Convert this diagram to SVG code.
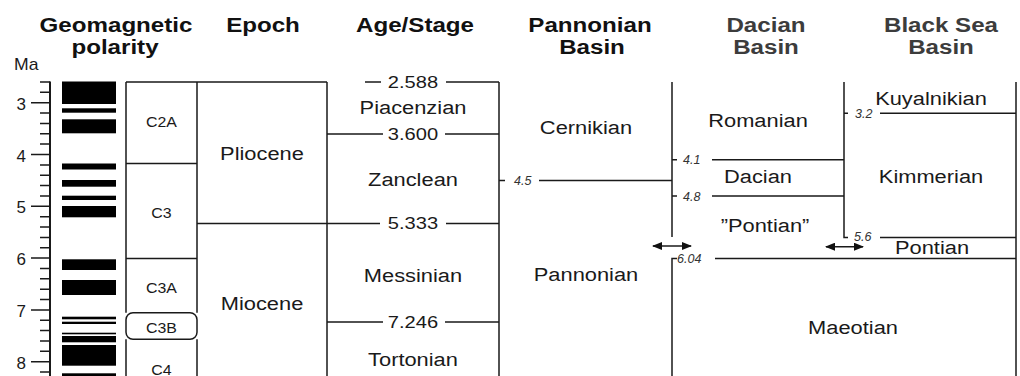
<svg xmlns="http://www.w3.org/2000/svg" width="1020" height="376" viewBox="0 0 1020 376">
<style>
.ln{stroke:#1a1a1a;stroke-width:1.5;fill:none}
.ax{stroke:#1a1a1a;stroke-width:2;fill:none}
.hd{font-family:"Liberation Sans",Arial,sans-serif;font-weight:bold;font-size:21px;fill:#111;text-anchor:middle}
.hg{fill:#3c3c3c}
.lb{font-family:"Liberation Sans",Arial,sans-serif;font-size:19px;fill:#1a1a1a;text-anchor:middle}
.nm{font-family:"Liberation Sans",Arial,sans-serif;font-size:16.5px;fill:#1a1a1a;text-anchor:middle}
.ch{font-family:"Liberation Sans",Arial,sans-serif;font-size:15px;fill:#1a1a1a;text-anchor:middle}
.it{font-family:"Liberation Sans",Arial,sans-serif;font-style:italic;font-size:12.5px;fill:#333}
.ma{font-family:"Liberation Sans",Arial,sans-serif;font-size:16px;fill:#1a1a1a}
.ak{font-family:"Liberation Sans",Arial,sans-serif;font-size:17px;fill:#1a1a1a;text-anchor:end}
.bar{fill:#000}
</style>
<defs>
<marker id="ah" viewBox="0 0 10 8" refX="9" refY="4" markerWidth="10" markerHeight="8" markerUnits="userSpaceOnUse" orient="auto-start-reverse">
<path d="M0,0 L10,4 L0,8 Z" fill="#111"/>
</marker>
</defs>

<g id="headers">
<text class="hd" transform="translate(116,32) scale(1.15,1)">Geomagnetic</text>
<text class="hd" transform="translate(115,54) scale(1.15,1)">polarity</text>
<text class="hd" transform="translate(263,32) scale(1.15,1)">Epoch</text>
<text class="hd" transform="translate(415,32) scale(1.15,1)">Age/Stage</text>
<text class="hd" transform="translate(590,32) scale(1.15,1)">Pannonian</text>
<text class="hd" transform="translate(592,54) scale(1.15,1)">Basin</text>
<text class="hd hg" transform="translate(766,32) scale(1.15,1)">Dacian</text>
<text class="hd hg" transform="translate(766,54) scale(1.15,1)">Basin</text>
<text class="hd hg" transform="translate(941,32) scale(1.15,1)">Black Sea</text>
<text class="hd hg" transform="translate(941,54) scale(1.15,1)">Basin</text>
</g>

<g id="axis">
<text class="ma" transform="translate(14,70) scale(1.1,1)">Ma</text>
<path class="ax" d="M50,81.5V376"/>
<path class="ln" d="M31,102.7H50M31,154.5H50M31,206.3H50M31,258.1H50M31,309.9H50M31,361.7H50"/>
<path class="ln" d="M40,82H50M40,92.3H50M40,113.1H50M40,123.4H50M40,133.8H50M40,144.1H50M40,164.9H50M40,175.2H50M40,185.6H50M40,195.9H50M40,216.7H50M40,227H50M40,237.4H50M40,247.7H50M40,268.5H50M40,278.8H50M40,289.2H50M40,299.5H50M40,320.3H50M40,330.6H50M40,341H50M40,351.3H50M40,372.1H50"/>
<text class="ak" x="26" y="110">3</text>
<text class="ak" x="26" y="161.5">4</text>
<text class="ak" x="26" y="213">5</text>
<text class="ak" x="26" y="265">6</text>
<text class="ak" x="26" y="317">7</text>
<text class="ak" x="26" y="368.5">8</text>
</g>

<g id="polarity">
<rect class="bar" x="62" y="81.5" width="54" height="22.5"/>
<rect class="bar" x="62" y="108.3" width="54" height="4.4"/>
<rect class="bar" x="62" y="119.3" width="54" height="14"/>
<rect class="bar" x="62" y="163.5" width="54" height="6"/>
<rect class="bar" x="62" y="180" width="54" height="6.7"/>
<rect class="bar" x="62" y="195.7" width="54" height="4.3"/>
<rect class="bar" x="62" y="206" width="54" height="11.3"/>
<rect class="bar" x="62" y="259.3" width="54" height="10.7"/>
<rect class="bar" x="62" y="280" width="54" height="15"/>
<rect class="bar" x="62" y="316.7" width="54" height="2.6"/>
<rect class="bar" x="62" y="321.7" width="54" height="2.3"/>
<rect class="bar" x="62" y="332.7" width="54" height="1.6"/>
<rect class="bar" x="62" y="336" width="54" height="6.3"/>
<rect class="bar" x="62" y="345" width="54" height="20.7"/>
<rect class="bar" x="62" y="373.3" width="54" height="4"/>
</g>

<g id="chrons">
<path class="ln" d="M126,82H197M126,82V312.7M197,82V312.7M126,163.5H197M126,258.5H197M126,339.3V376M197,339.3V376"/>
<rect class="ln" x="126" y="312.7" width="71" height="26.6" rx="7" ry="7" fill="#fff"/>
<text class="ch" transform="translate(161.5,127.3) scale(1.06,1)">C2A</text>
<text class="ch" transform="translate(161.5,218) scale(1.06,1)">C3</text>
<text class="ch" transform="translate(161.5,292.7) scale(1.06,1)">C3A</text>
<text class="ch" transform="translate(161.5,332.5) scale(1.06,1)">C3B</text>
<text class="ch" transform="translate(161.5,375) scale(1.06,1)">C4</text>
</g>

<g id="epoch">
<path class="ln" d="M197,82H327M327,82V376M197,223.4H380"/>
<text class="lb" transform="translate(262,160) scale(1.15,1)">Pliocene</text>
<text class="lb" transform="translate(262,310) scale(1.15,1)">Miocene</text>
</g>

<g id="stages">
<path class="ln" d="M365,82H381M446,82H499M499,82V376M327,134H383M445,134H499M446,223.4H499M327,322H383M445,322H499"/>
<text class="nm" transform="translate(413,88) scale(1.22,1)">2.588</text>
<text class="nm" transform="translate(413,140) scale(1.22,1)">3.600</text>
<text class="nm" transform="translate(413,229.3) scale(1.22,1)">5.333</text>
<text class="nm" transform="translate(413,328) scale(1.22,1)">7.246</text>
<text class="lb" transform="translate(413,114) scale(1.15,1)">Piacenzian</text>
<text class="lb" transform="translate(413,186) scale(1.15,1)">Zanclean</text>
<text class="lb" transform="translate(413,282) scale(1.15,1)">Messinian</text>
<text class="lb" transform="translate(413,366) scale(1.15,1)">Tortonian</text>
</g>

<g id="pannonian">
<path class="ln" d="M499,180.4H505M539,180.4H672"/>
<text class="it" x="514" y="185">4.5</text>
<text class="lb" transform="translate(586,134) scale(1.15,1)">Cernikian</text>
<text class="lb" transform="translate(586,281) scale(1.15,1)">Pannonian</text>
</g>

<g id="dacian">
<path class="ln" d="M672,82V237M672,159.7H677M712,159.7H844M672,195.9H677M712,195.9H844M677,258.5H672V376"/>
<text class="it" x="683" y="164">4.1</text>
<text class="it" x="683" y="200.5">4.8</text>
<text class="lb" transform="translate(758,127) scale(1.15,1)">Romanian</text>
<text class="lb" transform="translate(758,183) scale(1.15,1)">Dacian</text>
<text class="lb" transform="translate(765,232) scale(1.15,1)">”Pontian”</text>
</g>

<g id="blacksea">
<path class="ln" d="M844,82V237.4H848M880,237.4H1016M844,113.2H848M880,113.2H1016M715,258.5H1016M1016,82V376"/>
<text class="it" x="855" y="117.5">3.2</text>
<text class="it" x="854" y="240.5">5.6</text>
<text class="it" x="677" y="262.5">6.04</text>
<text class="lb" transform="translate(931,105) scale(1.15,1)">Kuyalnikian</text>
<text class="lb" transform="translate(931,183) scale(1.15,1)">Kimmerian</text>
<text class="lb" transform="translate(932,254) scale(1.15,1)">Pontian</text>
<text class="lb" transform="translate(853,334) scale(1.15,1)">Maeotian</text>
</g>

<g id="connectors">
<path class="ln" d="M653,246H691" marker-start="url(#ah)" marker-end="url(#ah)"/>
<path class="ln" d="M826,246.7H863" marker-start="url(#ah)" marker-end="url(#ah)"/>
</g>
</svg>
